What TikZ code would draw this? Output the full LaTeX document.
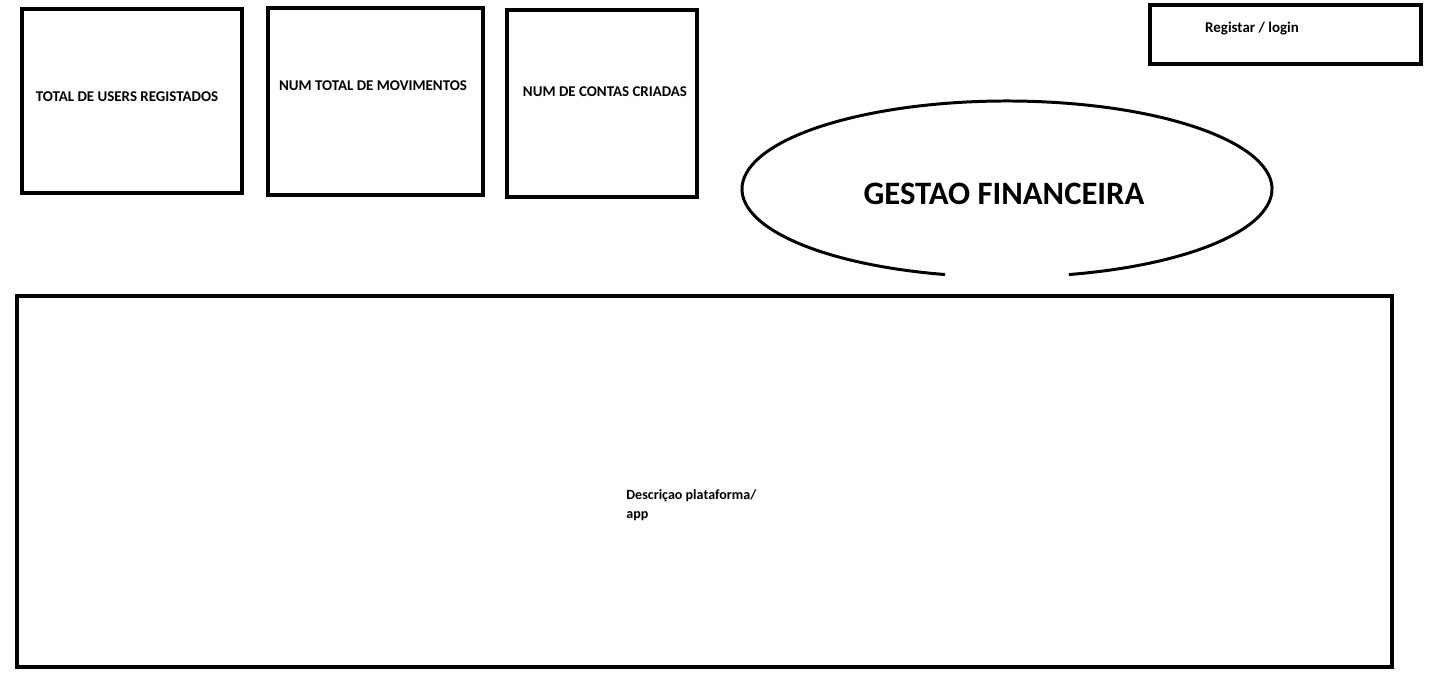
\documentclass[tikz,border=0pt]{standalone}
\usepackage{fontspec}
\setmainfont{Carlito}
\usepackage{tikz}
\usetikzlibrary{shapes}

\tikzset{
  caixa/.style={draw, line width=2.8pt, inner sep=0pt},
  texto/.style={font=\fontsize{8.5}{10}\selectfont\bfseries, inner sep=0pt},
}

\begin{document}
\begin{tikzpicture}[x=0.02cm, y=-0.02cm]
\useasboundingbox (0,0) rectangle (1434,693);
% caixas de topo
\node [caixa, minimum width=220*0.02cm, minimum height=184*0.02cm] (users) at (132,101) {};
\node [texto] (usersT) at (127,97) {TOTAL DE USERS REGISTADOS};
\node [caixa, minimum width=215*0.02cm, minimum height=187*0.02cm] (movs) at (375.5,101.5) {};
\node [texto] (movsT) at (373,86) {NUM TOTAL DE MOVIMENTOS};
\node [caixa, minimum width=190*0.02cm, minimum height=187*0.02cm] (contas) at (602,103.5) {};
\node [texto] (contasT) at (605,92) {NUM DE CONTAS CRIADAS};
\node [caixa, minimum width=271*0.02cm, minimum height=59*0.02cm] (login) at (1285.5,34.5) {};
\node [texto] (loginT) at (1252,29) {Registar / login};
% logo
\draw [line width=1.7pt] (1007,189) ++(103.5:265 and 88) arc [start angle=103.5, end angle=436.5, x radius=265, y radius=88];
\node [font=\fontsize{18.6}{22}\selectfont\bfseries] (titulo) at (1004,194) {GESTAO FINANCEIRA};
% descricao
\node [caixa, minimum width=1375*0.02cm, minimum height=371*0.02cm] (descr) at (704.5,481.5) {};
\node [texto, font=\fontsize{8}{10.8}\selectfont\bfseries, align=left, anchor=north west] (descrT) at (626,489) {Descriçao plataforma/\\app};
\end{tikzpicture}
\end{document}
